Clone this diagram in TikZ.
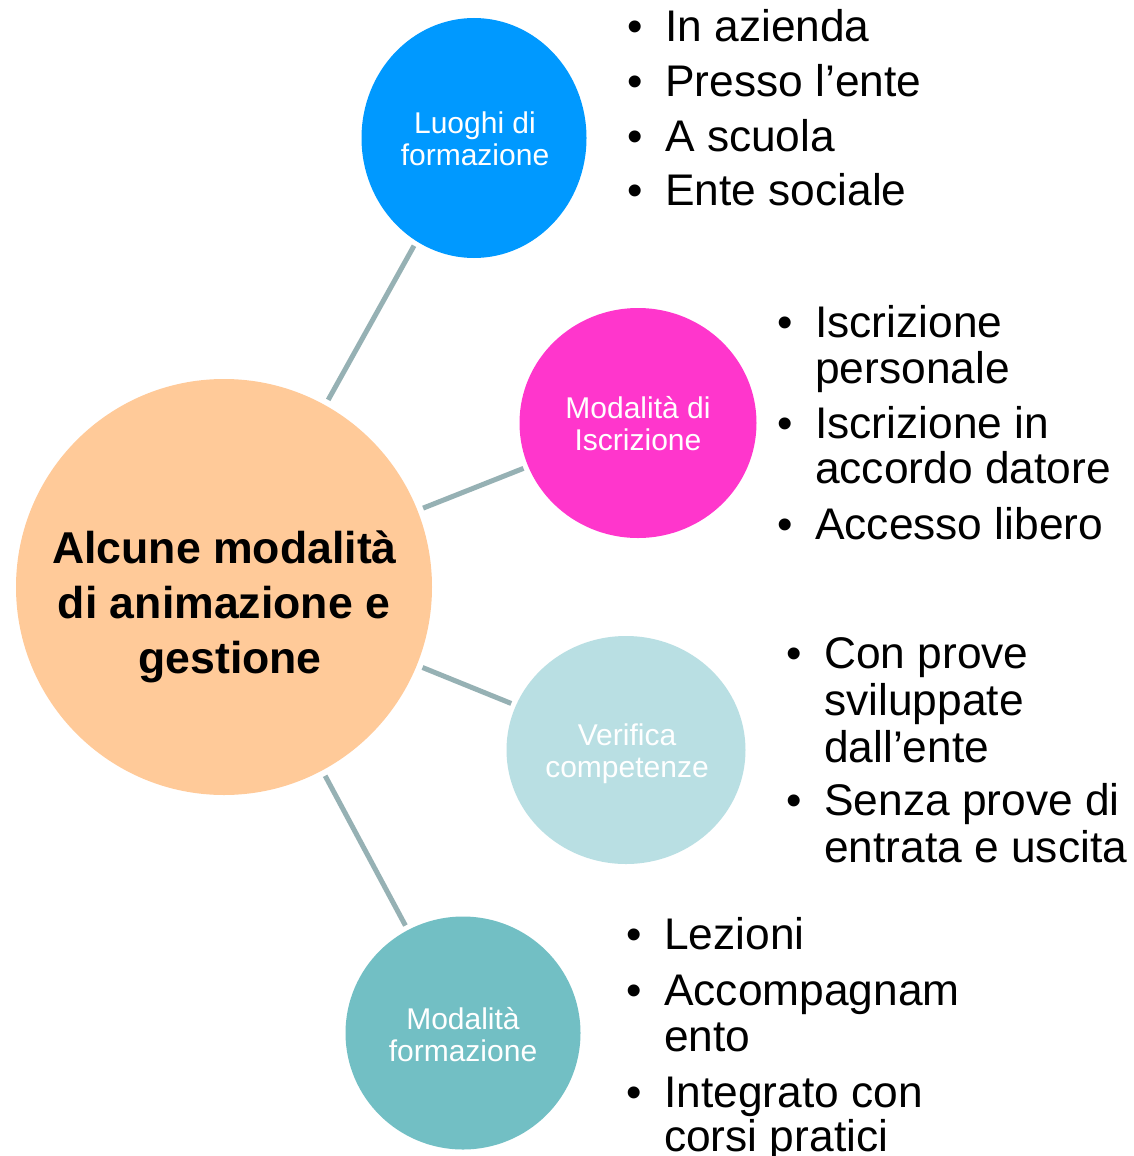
\documentclass[tikz,border=0pt]{standalone}
\usepackage{fontspec}
\setmainfont{Liberation Sans}
\usetikzlibrary{shapes.geometric}
\definecolor{cblue}{RGB}{0,153,255}
\definecolor{cpink}{RGB}{255,54,204}
\definecolor{clight}{RGB}{185,223,227}
\definecolor{cteal}{RGB}{114,191,196}
\definecolor{corange}{RGB}{255,202,153}
\definecolor{cline}{RGB}{150,177,180}
\begin{document}
\begin{tikzpicture}[x=1pt,y=-1pt,
  bubble/.style={ellipse,inner sep=0pt,draw=none},
  lbl/.style={anchor=base,text=white,inner sep=0pt,font=\fontsize{30}{32}\selectfont},
  mainlbl/.style={anchor=base,text=black,inner sep=0pt,font=\bfseries\fontsize{44.6}{46}\selectfont},
  itemtxt/.style={anchor=base west,inner sep=0pt,font=\fontsize{44.3}{46}\selectfont},
  bul/.style={anchor=base,inner sep=0pt,font=\fontsize{44}{46}\selectfont},
  link/.style={line width=5pt,draw=cline,shorten >=5pt,shorten <=6pt}]
\useasboundingbox (0,0) rectangle (1133,1156);
\fill[white] (0,0) rectangle (1133,1156);
% bubbles
\node[bubble,fill=corange,minimum width=416pt,minimum height=416pt] (main) at (224,587) {};
\node[bubble,fill=cblue,minimum width=225pt,minimum height=240pt] (b1) at (474,138) {};
\node[bubble,fill=cpink,minimum width=237pt,minimum height=230pt] (b2) at (638,423) {};
\node[bubble,fill=clight,minimum width=239pt,minimum height=228pt] (b3) at (626,750) {};
\node[bubble,fill=cteal,minimum width=235pt,minimum height=233pt] (b4) at (463,1033) {};
% links
\draw[link] (main) -- (b1);
\draw[link] (main) -- (b2);
\draw[link] (main) -- (b3);
\draw[link] (main) -- (b4);
% main label
\node[mainlbl] (m1) at (224.5,563) {Alcune modalità};
\node[mainlbl] (m2) at (224,618) {di animazione e};
\node[mainlbl] (m3) at (230,673) {gestione};
% bubble labels
\node[lbl] (t1a) at (475,133) {Luoghi di};
\node[lbl] (t1b) at (475,165) {formazione};
\node[lbl] (t2a) at (638,418) {Modalità di};
\node[lbl] (t2b) at (638,450) {Iscrizione};
\node[lbl] (t3a) at (627,745) {Verifica};
\node[lbl] (t3b) at (627,777) {competenze};
\node[lbl] (t4a) at (463,1029) {Modalità};
\node[lbl] (t4b) at (463,1061) {formazione};
% list 1
\node[bul] (p1a) at (635,42) {•};
\node[itemtxt] (i1a) at (665,42) {In azienda};
\node[bul] (p1b) at (635,96) {•};
\node[itemtxt] (i1b) at (665,96) {Presso l’ente};
\node[bul] (p1c) at (635,151) {•};
\node[itemtxt] (i1c) at (665,151) {A scuola};
\node[bul] (p1d) at (635,205) {•};
\node[itemtxt] (i1d) at (665,205) {Ente sociale};
% list 2
\node[bul] (p2a) at (785,337) {•};
\node[itemtxt] (i2a) at (815,337) {Iscrizione};
\node[itemtxt] (i2b) at (815,383) {personale};
\node[bul] (p2c) at (785,438) {•};
\node[itemtxt] (i2c) at (815,438) {Iscrizione in};
\node[itemtxt] (i2d) at (815,483) {accordo datore};
\node[bul] (p2e) at (785,539) {•};
\node[itemtxt] (i2e) at (815,539) {Accesso libero};
% list 3
\node[bul] (p3a) at (794,668) {•};
\node[itemtxt] (i3a) at (824,668) {Con prove};
\node[itemtxt] (i3b) at (824,715) {sviluppate};
\node[itemtxt] (i3c) at (824,762) {dall’ente};
\node[bul] (p3d) at (794,815) {•};
\node[itemtxt] (i3d) at (824,815) {Senza prove di};
\node[itemtxt] (i3e) at (824,862) {entrata e uscita};
% list 4
\node[bul] (p4a) at (634,949) {•};
\node[itemtxt] (i4a) at (664,949) {Lezioni};
\node[bul] (p4b) at (634,1005) {•};
\node[itemtxt] (i4b) at (664,1005) {Accompagnam};
\node[itemtxt] (i4c) at (664,1051) {ento};
\node[bul] (p4d) at (634,1107) {•};
\node[itemtxt] (i4d) at (664,1107) {Integrato con};
\node[itemtxt] (i4e) at (664,1151) {corsi pratici};
\end{tikzpicture}
\end{document}
